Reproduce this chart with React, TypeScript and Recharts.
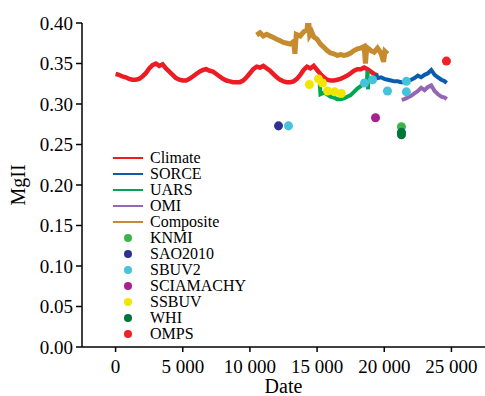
import {
  ComposedChart,
  Line,
  Scatter,
  XAxis,
  YAxis,
  Legend,
} from 'recharts'

const FONT = 'Liberation Serif'

// [date, MgII]
const climate: [number, number][] = [
  [0, 0.337], [250, 0.336], [500, 0.334], [750, 0.333], [1000, 0.331], [1250, 0.330],
  [1500, 0.330], [1750, 0.331], [2000, 0.334], [2250, 0.338], [2500, 0.344], [2750, 0.348],
  [3000, 0.350], [3250, 0.347], [3500, 0.349], [3750, 0.344], [4000, 0.340], [4250, 0.336],
  [4500, 0.332], [4750, 0.330], [5000, 0.329], [5250, 0.329], [5500, 0.331], [5750, 0.334],
  [6000, 0.337], [6250, 0.340], [6500, 0.342], [6750, 0.343], [7000, 0.341], [7250, 0.340],
  [7500, 0.337], [7750, 0.334], [8000, 0.331], [8250, 0.329], [8500, 0.328], [8750, 0.327],
  [9000, 0.327], [9250, 0.327], [9500, 0.329], [9750, 0.333], [10000, 0.338], [10250, 0.343],
  [10500, 0.346], [10750, 0.345], [11000, 0.347], [11250, 0.344], [11500, 0.341], [11750, 0.337],
  [12000, 0.333], [12250, 0.330], [12500, 0.328], [12750, 0.327], [13000, 0.327], [13250, 0.328],
  [13500, 0.331], [13750, 0.336], [14000, 0.342], [14250, 0.346], [14500, 0.344], [14750, 0.347],
  [15000, 0.342], [15250, 0.337], [15500, 0.333], [15750, 0.330], [16000, 0.329], [16250, 0.329],
  [16500, 0.330], [16750, 0.331], [17000, 0.333], [17250, 0.335], [17500, 0.338], [17750, 0.341],
  [18000, 0.343], [18250, 0.343], [18500, 0.345], [18750, 0.343], [19000, 0.340], [19250, 0.337],
  [19500, 0.335],
]

const sorce: [number, number][] = [
  [19400, 0.337], [19500, 0.332], [19750, 0.333], [20000, 0.331], [20250, 0.330], [20500, 0.329],
  [20750, 0.328], [21000, 0.328], [21250, 0.327], [21500, 0.327], [21750, 0.328], [22000, 0.330],
  [22250, 0.332], [22500, 0.335], [22750, 0.333], [23000, 0.336], [23250, 0.338], [23500, 0.342],
  [23750, 0.336], [24000, 0.333], [24250, 0.330], [24500, 0.328], [24650, 0.326],
]

const uars: [number, number][] = [
  [15200, 0.325], [15250, 0.312], [15500, 0.314], [15750, 0.312], [16000, 0.309], [16250, 0.308],
  [16500, 0.306], [16750, 0.306], [17000, 0.307], [17250, 0.309], [17500, 0.311], [17750, 0.315],
  [18000, 0.319], [18250, 0.322], [18500, 0.326], [18700, 0.324], [18750, 0.341], [18800, 0.318],
]

const omi: [number, number][] = [
  [21300, 0.305], [21500, 0.306], [21750, 0.308], [22000, 0.310], [22250, 0.313], [22500, 0.316],
  [22750, 0.320], [23000, 0.317], [23250, 0.321], [23500, 0.323], [23750, 0.316], [24000, 0.312],
  [24250, 0.309], [24500, 0.308], [24650, 0.306],
]

const composite: [number, number][] = [
  [10500, 0.385], [10750, 0.388], [11000, 0.384], [11250, 0.386], [11500, 0.384], [11750, 0.382],
  [12000, 0.380], [12250, 0.378], [12500, 0.376], [12750, 0.375], [13000, 0.374], [13250, 0.377],
  [13350, 0.362], [13450, 0.386], [13750, 0.384], [14000, 0.389], [14250, 0.392], [14350, 0.408],
  [14450, 0.385], [14600, 0.389], [14750, 0.383], [15000, 0.380], [15250, 0.374], [15500, 0.370],
  [15750, 0.366], [16000, 0.363], [16250, 0.362], [16500, 0.360], [16750, 0.361], [17000, 0.360],
  [17250, 0.361], [17500, 0.363], [17750, 0.366], [18000, 0.368], [18250, 0.369], [18500, 0.371],
  [18600, 0.350], [18700, 0.370], [19000, 0.366], [19250, 0.364], [19500, 0.369], [19750, 0.363],
  [19950, 0.352], [20050, 0.365], [20250, 0.362],
]

const knmi: [number, number][] = [[21280, 0.272]]
const sao2010: [number, number][] = [[12130, 0.273]]
const sbuv2: [number, number][] = [
  [12870, 0.273], [18530, 0.326], [19130, 0.330], [20240, 0.316], [21650, 0.315], [21650, 0.328],
]
const sciamachy: [number, number][] = [[19350, 0.283]]
const ssbuv: [number, number][] = [
  [14430, 0.324], [15100, 0.331], [15400, 0.326], [15780, 0.316], [16300, 0.315], [16800, 0.313],
]
const whi: [number, number][] = [[21280, 0.265], [21280, 0.262]]
const omps: [number, number][] = [[24630, 0.353]]

const xTicks = [0, 5000, 10000, 15000, 20000, 25000]
const yTicks = [0, 0.05, 0.1, 0.15, 0.2, 0.25, 0.3, 0.35, 0.4]

const toPts = (a: [number, number][]) => a.map(([x, y]) => ({ x, y }))

const lineSeries = [
  { name: 'Climate', color: '#ed1c24', data: climate, width: 4.5 },
  { name: 'SORCE', color: '#0b5cad', data: sorce, width: 4 },
  { name: 'UARS', color: '#00a651', data: uars, width: 4 },
  { name: 'OMI', color: '#9467b4', data: omi, width: 4 },
  { name: 'Composite', color: '#c68b2f', data: composite, width: 5 },
]

const dotSeries = [
  { name: 'KNMI', color: '#3cb44b', data: knmi },
  { name: 'SAO2010', color: '#2e3192', data: sao2010 },
  { name: 'SBUV2', color: '#45c3da', data: sbuv2 },
  { name: 'SCIAMACHY', color: '#a8218f', data: sciamachy },
  { name: 'SSBUV', color: '#f2e500', data: ssbuv },
  { name: 'WHI', color: '#00763a', data: whi },
  { name: 'OMPS', color: '#ee2227', data: omps },
]

function LegendBox() {
  const rows = [
    ...lineSeries.map(s => ({ name: s.name, color: s.color, line: true })),
    ...dotSeries.map(s => ({ name: s.name, color: s.color, line: false })),
  ]
  return (
    <div style={{ fontFamily: FONT, fontSize: 16, color: '#000' }}>
      {rows.map(r => (
        <div key={r.name} style={{ display: 'flex', alignItems: 'center', height: 16 }}>
          <svg width={37} height={16}>
            {r.line ? (
              <line x1={0} x2={30} y1={8} y2={8} stroke={r.color} strokeWidth={2} />
            ) : (
              <circle cx={15} cy={8} r={4} fill={r.color} />
            )}
          </svg>
          <span style={{ lineHeight: '16px', whiteSpace: 'nowrap' }}>{r.name}</span>
        </div>
      ))}
    </div>
  )
}

export default function App() {
  return (
    <div style={{ position: 'absolute', left: 0, top: 0, background: '#fff', fontFamily: FONT }}>
      <ComposedChart
        width={485}
        height={396}
        margin={{ top: 23, right: 0, left: 0, bottom: 0 }}
        style={{ fontFamily: FONT }}
      >
        <XAxis
          type="number"
          dataKey="x"
          domain={[-2500, 27500]}
          ticks={xTicks}
          allowDataOverflow
          tickFormatter={(v: number) => (v === 0 ? '0' : `${v / 1000} 000`)}
          tick={{ fontSize: 19, fill: '#000', fontFamily: FONT }}
          axisLine={{ stroke: '#000', strokeWidth: 1.5 }}
          tickLine={{ stroke: '#000', strokeWidth: 1.5 }}
          tickSize={5}
          tickMargin={8}
          height={49}
          label={{ value: 'Date', position: 'insideBottom', offset: 3, fontSize: 20, fill: '#000', fontFamily: FONT }}
        />
        <YAxis
          type="number"
          dataKey="y"
          domain={[0, 0.4]}
          ticks={yTicks}
          allowDataOverflow
          tickFormatter={(v: number) => v.toFixed(2)}
          tick={{ fontSize: 19, fill: '#000', fontFamily: FONT }}
          axisLine={{ stroke: '#000', strokeWidth: 1.5 }}
          tickLine={{ stroke: '#000', strokeWidth: 1.5 }}
          tickSize={6}
          tickMargin={3}
          width={82}
          label={{
            value: 'MgII',
            angle: -90,
            position: 'insideLeft',
            offset: 18,
            fontSize: 20,
            fill: '#000',
            fontFamily: FONT,
            style: { textAnchor: 'middle' },
          }}
        />
        <Legend
          verticalAlign="middle"
          align="center"
          layout="vertical"
          wrapperStyle={{ left: 113, top: 150, width: 'auto', height: 'auto' }}
          content={() => <LegendBox />}
        />
        {lineSeries.map(s => (
          <Line
            key={s.name}
            data={toPts(s.data)}
            dataKey="y"
            name={s.name}
            stroke={s.color}
            strokeWidth={s.width}
            dot={false}
            activeDot={false}
            type="linear"
            isAnimationActive={false}
          />
        ))}
        {dotSeries.map(s => (
          <Scatter
            key={s.name}
            data={toPts(s.data)}
            dataKey="y"
            name={s.name}
            fill={s.color}
            isAnimationActive={false}
          />
        ))}
      </ComposedChart>
    </div>
  )
}
